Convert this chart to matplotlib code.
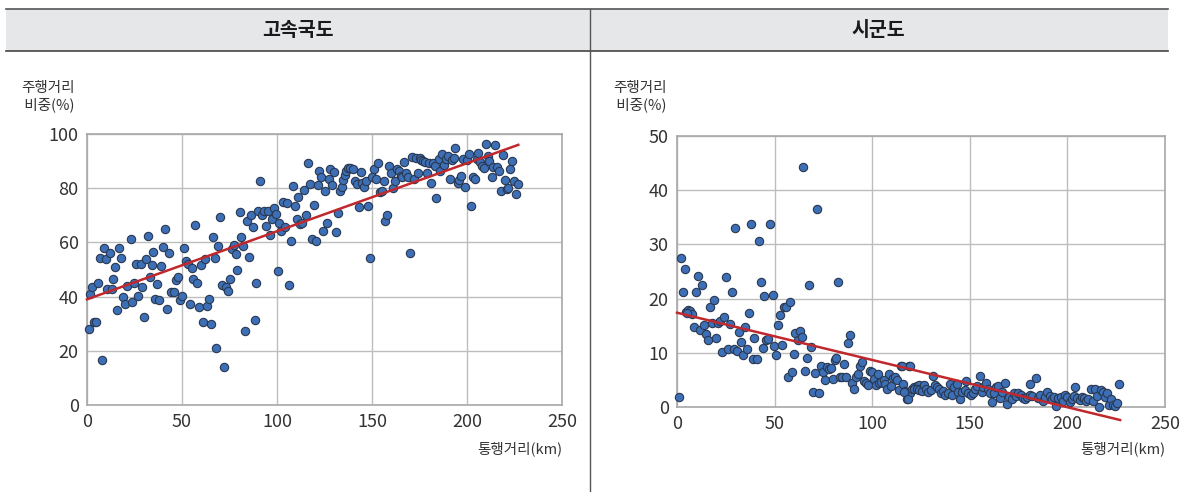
import matplotlib
matplotlib.use("Agg")
import matplotlib.pyplot as plt
from matplotlib.lines import Line2D
from matplotlib.patches import Rectangle

plt.rcParams['font.family'] = ['Noto Sans CJK KR', 'DejaVu Sans']

# 고속국도: 통행거리(km), 주행거리 비중(%)
hw_x = [0.9, 1.8, 2.6, 5.6, 3.5, 4.8, 7.7, 6.7, 8.8, 9.9, 12, 10.6, 12.9, 13.7, 14.8, 15.8,
        16.9, 18, 18.8, 19.9, 21.1, 22.9, 23.8, 24.6, 25.9, 26.9, 28.2, 28.9, 29.9, 31, 32,
        33.1, 34, 34.8, 35.9, 36.9, 38, 38.9, 39.9, 41, 42, 43.1, 44, 45.8, 47, 47.9, 48.9,
        50.2, 51, 52.1, 53.2, 54, 55.3, 56, 57, 58.1, 59, 60.2, 61.1, 62.1, 63.2, 64.3, 65.1,
        66.2, 67.2, 68.1, 69, 70, 70.9, 72.2, 73.2, 74.3, 75.3, 76.2, 77.3, 78.3, 79.2, 80.3,
        81.3, 82.2, 83.1, 84.1, 85.2, 86.2, 87.3, 88.2, 89.2, 90.1, 91.2, 92.2, 93.3, 94.4,
        95.2, 96.3, 97.2, 98.2, 99.4, 100.3, 101.2, 102.1, 103.2, 104.2, 105.3, 106.3, 107.4,
        108.4, 109.3, 110.4, 111.2, 112.3, 113.2, 114.4, 115.5, 116.3, 117.4, 118.3, 119.3,
        120.4, 121.4, 122.3, 123.2, 124.3, 125.3, 126.4, 127.4, 128.1, 129, 129.9, 130.8,
        132, 132.9, 134, 134.8, 135.7, 136.5, 137.4, 138.6, 139.9, 140.9, 142, 143, 144.1,
        144.9, 146, 147, 148.1, 149.1, 150, 150.9, 151.9, 153, 154, 155.1, 156.1, 157, 158,
        159.1, 160, 161, 162.1, 163.1, 164, 165, 165.9, 167, 168, 168.9, 169.9, 171, 172,
        173.1, 174.1, 175, 176, 177.1, 178.1, 179, 180.1, 181, 182, 183, 183.9, 185, 186,
        187, 187.9, 189, 190, 191, 192, 193, 193.9, 195, 195.8, 196.8, 197.9, 198.9, 200,
        201, 201.9, 203, 204, 205, 205.9, 207, 208, 208.9, 209.8, 210.8, 211.8, 212.9,
        213.8, 214.9, 215.9, 217, 217.8, 218.8, 219.9, 220.8, 221.8, 222.7, 223.7, 224.6,
        225.9, 226.9]
hw_y = [27.9, 41, 43.7, 44.9, 30.5, 30.5, 16.6, 54.4, 57.9, 53.9, 56, 42.8, 42.8, 46.4,
        50.8, 35.1, 58.1, 54.4, 40, 37.3, 44, 61.1, 38.1, 44.9, 52, 40.2, 52, 43.7, 32.6,
        53.8, 62.4, 47.1, 51.5, 56.5, 39, 44.5, 38.7, 51.4, 58.4, 65, 35.3, 56.2, 41.8, 41.8,
        46.1, 47.1, 38.7, 40.2, 57.9, 53, 52, 37.1, 50.7, 46.4, 66.4, 44.9, 36.3, 51.8, 30.6,
        53.9, 36.7, 39.1, 29.9, 62.1, 54.1, 21.2, 58.7, 69.5, 44.4, 14.1, 43.7, 42.1, 46.4,
        57.4, 58.9, 55.8, 49.9, 71.1, 62, 58.7, 27.2, 68, 54.7, 70, 65.6, 31.4, 45, 71.7,
        82.8, 70.1, 71.7, 66.1, 71.7, 62.9, 68.8, 72.7, 70.5, 49.4, 67.3, 64.2, 75, 65.8,
        74.5, 44.2, 60.5, 80.8, 73.4, 68.6, 76.9, 66.8, 67.3, 79.3, 70.1, 89.2, 81.5, 61.3,
        73.9, 60.6, 81.1, 86.2, 84.3, 64.1, 79.1, 67, 83.4, 87, 81.2, 86.1, 64, 71, 79.1,
        80.3, 83, 84.9, 86.5, 87.3, 87.6, 87, 82.7, 81.5, 73.2, 86.1, 82, 80.6, 82.8, 73.4,
        54.1, 84, 87, 83.3, 89.2, 78.7, 79.1, 82.8, 68, 70, 88.2, 85.5, 80, 82.8, 87, 86.3,
        84.5, 84.3, 89.8, 85.7, 84, 56.2, 91.4, 83.3, 91, 85.5, 91, 90.4, 90.2, 89.8, 85.7,
        89.4, 81.8, 89.4, 88.2, 76.4, 90.7, 86.5, 92.6, 88.4, 90.7, 91.9, 83.3, 90.4, 91, 95,
        82, 83, 84.5, 90.9, 80.6, 90.4, 92.5, 73.4, 84, 83.5, 90.7, 93.1, 89.8, 88.2, 87.6,
        96.2, 91.9, 90.2, 84, 87.7, 95.8, 87.9, 86.5, 79.1, 92.2, 83, 79.6, 80.1, 87.1, 90.2,
        82.5, 77.9, 81.4]

# 시군도
lr_x = [1, 1.9, 3.9, 3, 4.4, 5.6, 6.8, 7.8, 5.1, 8.9, 9.9, 10.9, 11.9, 13, 14, 15, 16,
        16.9, 17.9, 18.9, 20, 21, 22, 23, 23.9, 24.9, 25.9, 27, 28, 29, 29.9, 30.9, 31.9,
        33, 33.8, 34.8, 35.8, 36.7, 37.7, 38.7, 39.7, 40.8, 41.8, 42.8, 43.9, 44.7, 45.7,
        46.7, 47.8, 49, 49.8, 50.8, 51.9, 52.9, 53.9, 54.9, 56, 56.8, 57.8, 58.9, 59.9,
        60.7, 61.8, 62.8, 63.8, 64.7, 65.7, 66.7, 67.7, 68.8, 69.8, 70.8, 71.8, 72.8, 73.7,
        74.7, 75.7, 76.8, 77.8, 78.8, 79.7, 80.7, 81.7, 82.7, 83.6, 84.6, 85.6, 86.7, 87.7,
        88.7, 89.7, 90.8, 91.8, 92.8, 93.8, 94.7, 95.7, 96.7, 97.8, 98.8, 99.8, 100.8,
        101.8, 102.9, 103.7, 104.7, 105.8, 106.8, 107.8, 108.7, 109.7, 110.7, 111.7, 112.8,
        113.8, 114.6, 115.7, 116.7, 117.7, 118.6, 119.6, 120.6, 121.6, 122.8, 123.9,
        115.5, 119.4, 116.4, 118.1, 121.2, 122.9, 124.1, 125.3, 126.3, 127.5, 128.7, 130,
        131.1, 132.1, 133.1, 134.3, 135.2, 136.4, 137.4, 138.6, 139.8, 140.8, 142, 143.2,
        144, 145, 146.2, 147.3, 148.3, 149.3, 150.5, 151.4, 152.6, 153.8, 155.1, 156, 157,
        158.2, 159.4, 160.4, 161.3, 162.5, 163.5, 164.5, 165.4, 166.7, 168.1, 169.3, 170.3,
        171.5, 172.7, 173.9, 174.9, 176.1, 177.3, 178.3, 179.5, 180.7, 181, 182, 183.8, 185,
        186.2, 187.5, 188.6, 189.8, 191, 192, 193.2, 194.2, 195.2, 196.6, 197.8, 198.8, 200,
        201.2, 202.2, 203.4, 203.9, 205.1, 206.3, 207.5, 208.5, 209.7, 210.8, 211.9, 213,
        214.2, 215.4, 216.2, 217.2, 218.3, 219.3, 220.5, 221.5, 222.5, 223.6, 224.6, 225.6,
        226.6]
lr_y = [1.8, 27.4, 25.4, 21.3, 17.6, 17.9, 17.8, 17.2, 17.4, 14.8, 21.3, 24.2, 14.2, 22.5,
        15.2, 13.5, 12.4, 18.5, 15.5, 19.8, 12.7, 15.5, 15.9, 10.2, 16.6, 24, 10.7, 15.3,
        21.2, 10.7, 33, 10.4, 13.9, 12, 9.6, 14.7, 10.7, 17.4, 33.7, 8.9, 12.7, 8.9, 30.6,
        23.1, 10.9, 20.5, 12.4, 12.6, 33.7, 20.6, 11.2, 9.6, 15.2, 17, 11.5, 18.5, 18.4, 5.5,
        19.4, 6.4, 9.8, 13.6, 12.4, 14.1, 13, 44.3, 6.7, 9.1, 22.6, 11, 2.8, 6.3, 36.6, 2.6,
        7.5, 6.4, 5, 7.4, 7, 7.2, 5.2, 8.7, 9, 23.1, 5.6, 5.6, 7.9, 5.5, 11.9, 13.3, 4.5,
        3.3, 5.6, 6, 7.5, 8.3, 4.8, 4.5, 4, 6.6, 6.5, 5.2, 4, 6, 4.4, 4.7, 4.9, 4.3, 3.3, 6,
        3.8, 5.3, 5.6, 5, 3.1, 7.6, 4.3, 2.9, 1.5, 7.5, 2.6, 3.3, 3.6, 3.8, 4,
        7.6, 7.6, 2.8, 1.4, 3.25, 3.4, 3.1, 2.9, 4.1, 3.25, 2.8, 3.1, 5.75, 4.1, 3.75, 3.25,
        2.5, 2.9, 2.2, 2.6, 4.25, 2.2, 3.6, 4.25, 2.75, 1.5, 2.8, 3.1, 4.8, 2.6, 2.2, 2.6,
        3.4, 3.9, 5.8, 2.8, 3.75, 4.4, 3.25, 2.5, 0.9, 2.6, 3.75, 3.9, 1.7, 2.8, 4.4, 0.5,
        1.9, 1.4, 2.5, 2, 2.5, 2.2, 1.6, 1.4, 1.9, 2.2, 4.25, 2, 5.4, 1.75, 2.2, 1.1, 1.9,
        2.8, 2, 1.4, 1.9, 0.1, 1.6, 1.9, 1.1, 2.2, 1.9, 0.9, 1.4, 2, 3.75, 1.6, 1.25, 1.9,
        1.6, 1.1, 1.4, 3.25, 1.1, 3.25, 2, 0, 3.1, 2.8, 1.9, 2.6, 0.3, 1.4, 0.3, 0.1, 0.75,
        4.2]

# trend lines (endpoints)
hw_trend_x = [0, 227]
hw_trend_y = [39, 96]
lr_trend_x = [0, 227]
lr_trend_y = [17.4, -2.4]

titles = ['고속국도', '시군도']
ylabel = '주행거리\n 비중(%)'
xlabel = '통행거리(km)'

fig = plt.figure(figsize=(11.96, 4.92), dpi=100)
W, H = 1196, 492

def fx(px):
    return px / W

def fy(py):
    return 1 - py / H

# header band
fig.patches.append(Rectangle((fx(6), fy(51)), fx(1168 - 6), (51 - 9) / H,
                             transform=fig.transFigure, facecolor='#e6e7e8',
                             edgecolor='none', zorder=0))
fig.add_artist(Line2D([fx(6), fx(1168)], [fy(9), fy(9)], color='#555555', lw=1.2))
fig.add_artist(Line2D([fx(6), fx(1168)], [fy(51), fy(51)], color='#444444', lw=1.2))
fig.add_artist(Line2D([fx(590), fx(590)], [fy(9), fy(492)], color='#555555', lw=1))
fig.text(fx(298), fy(30), titles[0], ha='center', va='center', fontsize=14, fontweight='bold', color='#1a1a1a')
fig.text(fx(878), fy(30), titles[1], ha='center', va='center', fontsize=14, fontweight='bold', color='#1a1a1a')

panels = [
    ([fx(87), fy(405), fx(562 - 87), (405 - 134) / H], hw_x, hw_y, hw_trend_x, hw_trend_y, 100, 20, 48),
    ([fx(677), fy(407), fx(1165 - 677), (407 - 136) / H], lr_x, lr_y, lr_trend_x, lr_trend_y, 50, 10, 640),
]

for rect, xs, ys, tx, ty, ymax, ystep, lab_x in panels:
    ax = fig.add_axes(rect)
    ax.scatter(xs, ys, s=36, color='#3d6fb6', edgecolors='#2a3850', linewidths=0.8,
               zorder=3, clip_on=False)
    ax.plot(tx, ty, color='#c0282d', lw=1.8, zorder=4, clip_on=False)
    ax.set_xlim(0, 250)
    ax.set_ylim(0, ymax)
    ax.set_xticks(range(0, 251, 50))
    ax.set_yticks(range(0, ymax + 1, ystep))
    ax.grid(True, color='#bdbdbd', lw=1)
    ax.set_axisbelow(True)
    for s in ax.spines.values():
        s.set_color('#a8a8a8')
        s.set_linewidth(1.2)
    ax.tick_params(length=0, labelsize=13, labelcolor='#333333', pad=6)
    for lab in ax.get_xticklabels() + ax.get_yticklabels():
        lab.set_fontweight('light')
    fig.text(fx(lab_x), fy(97), ylabel, ha='center', va='center', fontsize=10.5,
             color='#333333', linespacing=1.2)
    x1 = rect[0] + rect[2]
    fig.text(x1, fy(449), xlabel, ha='right', va='center', fontsize=10.5, color='#333333')

fig.savefig('out.png', dpi=100)
